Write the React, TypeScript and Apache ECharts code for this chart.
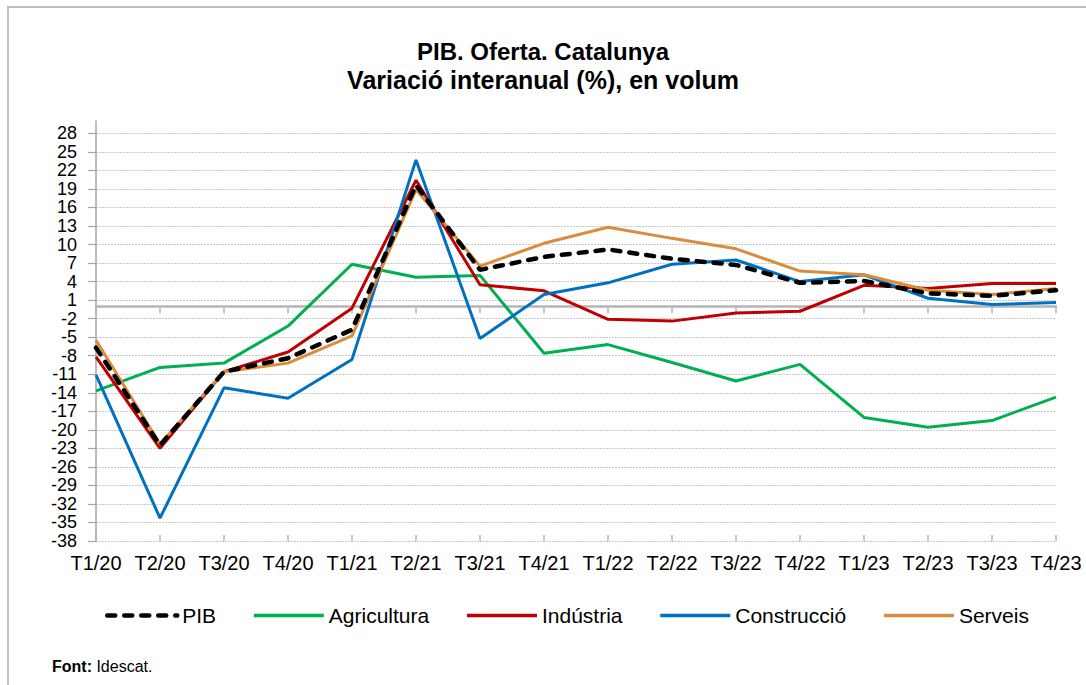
import React, { useEffect, useRef } from "react";
import * as echarts from "echarts";

const categories = [
  "T1/20", "T2/20", "T3/20", "T4/20",
  "T1/21", "T2/21", "T3/21", "T4/21",
  "T1/22", "T2/22", "T3/22", "T4/22",
  "T1/23", "T2/23", "T3/23", "T4/23",
];

const pib = [-6.7, -22.5, -10.6, -8.4, -3.8, 19.6, 5.9, 8.0, 9.2, 7.7, 6.7, 3.8, 4.1, 2.1, 1.7, 2.6];
const agricultura = [-13.7, -9.9, -9.2, -3.2, 6.8, 4.7, 5.0, -7.6, -6.2, -9.1, -12.1, -9.4, -18.0, -19.6, -18.5, -14.7];
const industria = [-8.2, -23.0, -10.6, -7.4, -0.3, 20.4, 3.5, 2.5, -2.1, -2.4, -1.1, -0.8, 3.4, 2.9, 3.7, 3.7];
const construccio = [-11.1, -34.3, -13.2, -14.9, -8.6, 23.7, -5.2, 1.9, 3.8, 6.8, 7.5, 4.0, 5.1, 1.3, 0.3, 0.6];
const serveis = [-5.5, -22.3, -10.6, -9.2, -4.8, 18.9, 6.5, 10.2, 12.8, 11.0, 9.3, 5.7, 5.1, 2.6, 1.9, 2.9];

const yTicks = [-38, -35, -32, -29, -26, -23, -20, -17, -14, -11, -8, -5, -2, 1, 4, 7, 10, 13, 16, 19, 22, 25, 28];

const FONT = "'Liberation Sans', Arial, sans-serif";
const AXIS_GRAY = "#a6a6a6";
const ZERO_GRAY = "#b4b4b4";

export default function App() {
  const ref = useRef<HTMLDivElement>(null);

  useEffect(() => {
    if (!ref.current) return;
    const chart = echarts.init(ref.current, null, { renderer: "svg" });

    const mkSeries = (name: string, data: number[], color: string, extra: any = {}) => ({
      name,
      type: "line",
      data,
      xAxisIndex: 0,
      yAxisIndex: 0,
      symbol: "none",
      showSymbol: false,
      z: 2,
      lineStyle: { color, width: 3 },
      itemStyle: { color },
      emphasis: { disabled: true },
      ...extra,
    });

    const option: any = {
      animation: false,
      backgroundColor: "#ffffff",
      textStyle: { fontFamily: FONT },
      title: {
        text: "PIB. Oferta. Catalunya",
        subtext: "Variació interanual (%), en volum",
        left: "center",
        top: 34,
        itemGap: 4,
        textStyle: { fontFamily: FONT, fontSize: 24, fontWeight: "bold", color: "#000" },
        subtextStyle: { fontFamily: FONT, fontSize: 25, fontWeight: "bold", color: "#000" },
      },
      legend: {
        data: [
          { name: "PIB", lineStyle: { width: 4.5 } },
          { name: "Agricultura", lineStyle: { width: 3.5 } },
          { name: "Indústria", lineStyle: { width: 3.5 } },
          { name: "Construcció", lineStyle: { width: 3.5 } },
          { name: "Serveis", lineStyle: { width: 3.5 } },
        ],
        left: 100,
        top: 600,
        itemWidth: 70,
        itemHeight: 14,
        itemGap: 36,
        itemStyle: { opacity: 0 },
        textStyle: { fontFamily: FONT, fontSize: 21, color: "#000" },
        selectedMode: false,
      },
      grid: { left: 96, right: 30, top: 121, bottom: 144, containLabel: false },
      xAxis: [
        {
          type: "category",
          data: categories,
          boundaryGap: false,
          position: "bottom",
          axisLine: { show: false, onZero: false },
          axisTick: { show: false },
          splitLine: { show: false },
          axisLabel: { interval: 0, fontFamily: FONT, fontSize: 20, color: "#000", margin: 12 },
        },
        {
          type: "category",
          data: categories,
          boundaryGap: false,
          position: "bottom",
          axisLine: { show: true, onZero: true, lineStyle: { color: ZERO_GRAY, width: 2.5 } },
          axisTick: { show: true, interval: 0, length: 7, lineStyle: { color: ZERO_GRAY, width: 1.5 } },
          axisLabel: { show: false },
          splitLine: { show: false },
        },
        {
          type: "category",
          data: categories,
          boundaryGap: false,
          position: "bottom",
          axisLine: { show: false, onZero: true },
          axisTick: { show: true, inside: true, interval: 0, length: 6, lineStyle: { color: ZERO_GRAY, width: 1.5 } },
          axisLabel: { show: false },
          splitLine: { show: false },
        },
      ],
      yAxis: {
        type: "value",
        min: -38,
        max: 30,
        interval: 3,
        axisLine: { show: true, lineStyle: { color: AXIS_GRAY, width: 1.5 } },
        axisTick: { show: true, length: 8, customValues: yTicks, lineStyle: { color: AXIS_GRAY, width: 1.2 } },
        axisLabel: {
          customValues: yTicks,
          showMinLabel: true,
          showMaxLabel: true,
          fontFamily: FONT,
          fontSize: 18,
          lineHeight: 18,
          color: "#000",
          margin: 19,
        },
        splitLine: {
          show: true,
          showMinLine: true,
          showMaxLine: true,
          lineStyle: { color: "#c8c8c8", width: 1, type: [2, 1] },
        },
      },
      series: [
        mkSeries("PIB", pib, "#000000", {
          z: 4,
          lineStyle: { color: "#000000", width: 4.5, type: [8, 9], cap: "round" },
        }),
        mkSeries("Agricultura", agricultura, "#00b050"),
        mkSeries("Indústria", industria, "#c00000"),
        mkSeries("Construcció", construccio, "#0070c0"),
        mkSeries("Serveis", serveis, "#d98c3b"),
      ],
      graphic: [
        {
          type: "rect",
          silent: true,
          z: -1,
          shape: { x: 8, y: 7, width: 1200, height: 800 },
          style: { fill: "none", stroke: "#bfbfbf", lineWidth: 2 },
        },
        {
          type: "text",
          left: 52,
          top: 658,
          style: {
            text: "{b|Font:} Idescat.",
            fontFamily: FONT,
            fontSize: 16,
            fill: "#000",
            rich: { b: { fontWeight: "bold", fontFamily: FONT, fontSize: 16, fill: "#000" } },
          },
        },
      ],
    };

    chart.setOption(option);
    return () => chart.dispose();
  }, []);

  return (
    <div
      ref={ref}
      style={{ position: "absolute", left: 0, top: 0, width: 1086, height: 685, background: "#fff" }}
    />
  );
}
